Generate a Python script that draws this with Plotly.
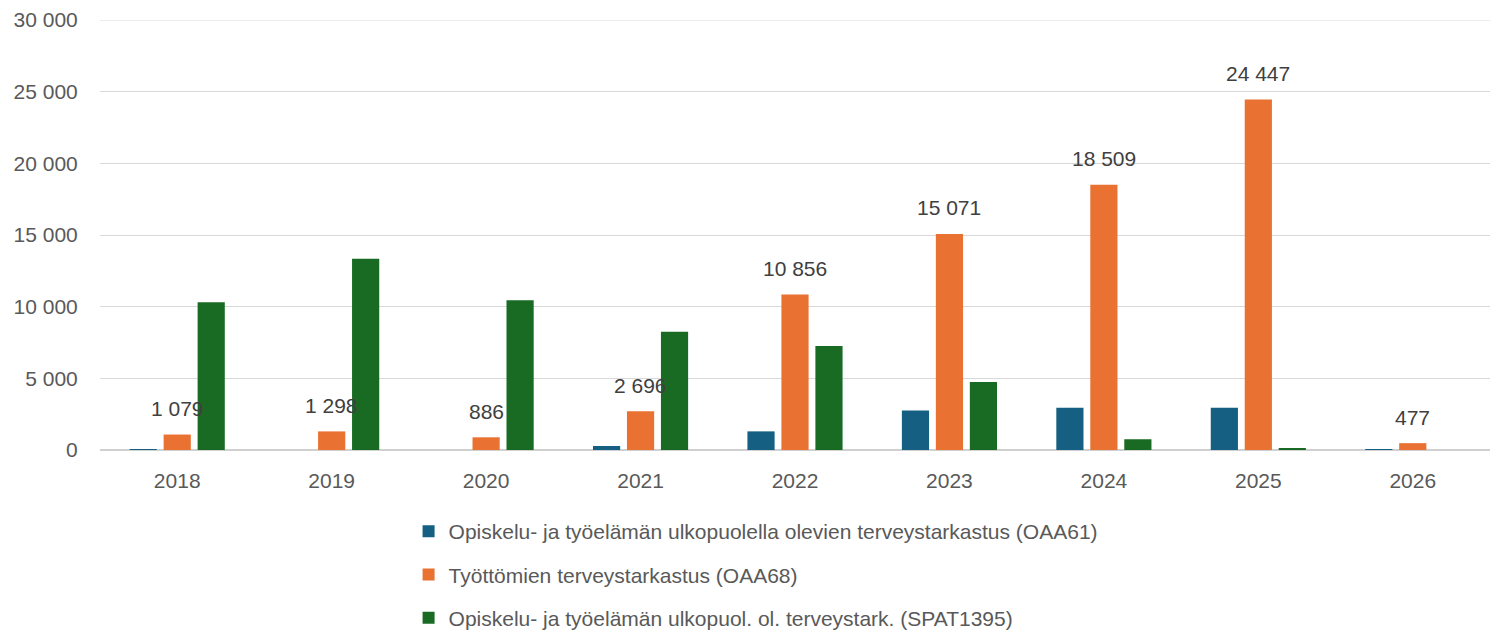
import plotly.graph_objects as go

years = ["2018", "2019", "2020", "2021", "2022", "2023", "2024", "2025", "2026"]
oaa61 = [30, 0, 0, 280, 1300, 2750, 2950, 2950, 20]
oaa68 = [1079, 1298, 886, 2696, 10856, 15071, 18509, 24447, 477]
spat1395 = [10300, 13350, 10450, 8250, 7250, 4750, 750, 80, 0]
oaa68_labels = ["1 079", "1 298", "886", "2 696", "10 856", "15 071", "18 509", "24 447", "477"]
y_ticks = [0, 5000, 10000, 15000, 20000, 25000, 30000]
y_tick_labels = ["0", "5 000", "10 000", "15 000", "20 000", "25 000", "30 000"]

names = [
    "Opiskelu- ja työelämän ulkopuolella olevien terveystarkastus (OAA61)",
    "Työttömien terveystarkastus (OAA68)",
    "Opiskelu- ja työelämän ulkopuol. ol. terveystark. (SPAT1395)",
]
colors = ["#156082", "#E97132", "#196B24"]

FONT = "Liberation Sans"

fig = go.Figure()
for i, (vals, nm, col) in enumerate(zip([oaa61, oaa68, spat1395], names, colors)):
    fig.add_trace(go.Bar(
        x=years, y=vals, name=nm, marker_color=col,
        marker_line_width=0, legendgroup=f"g{i}",
    ))

# category axis: annotations are placed by category index
for idx, (v, lab) in enumerate(zip(oaa68, oaa68_labels)):
    fig.add_annotation(x=idx, y=v, text=lab, showarrow=False, yshift=26,
                       font=dict(family=FONT, size=21, color="#404040"))

# top gridline at the edge of the range
fig.add_shape(type="line", xref="paper", yref="y", x0=0, x1=1,
              y0=y_ticks[-1], y1=y_ticks[-1], line=dict(color="#d9d9d9", width=1),
              layer="below")

fig.update_layout(
    width=1490, height=630,
    margin=dict(l=92, r=8, t=12, b=188),
    plot_bgcolor="white", paper_bgcolor="white",
    barmode="group", bargap=0.34, bargroupgap=0.2,
    font=dict(family=FONT, size=21, color="#595959"),
    showlegend=True,
    legend=dict(orientation="v", x=0.222, xanchor="left",
                yref="container", y=0, yanchor="bottom",
                font=dict(family=FONT, size=21, color="#595959"),
                tracegroupgap=13, itemwidth=30),
    xaxis=dict(type="category", categoryorder="array", categoryarray=years,
               automargin=False,
               showgrid=False, showline=False, ticks="outside", ticklen=12,
               tickcolor="rgba(0,0,0,0)", tickfont=dict(size=21, color="#595959")),
    yaxis=dict(range=[0, 30000], tickvals=y_ticks, ticktext=y_tick_labels,
               automargin=False, ticklabeloverflow="allow",
               showgrid=True, gridcolor="#d9d9d9", gridwidth=1,
               zeroline=True, zerolinecolor="#d0d0d0", zerolinewidth=2,
               ticks="outside", ticklen=17, tickcolor="rgba(0,0,0,0)",
               tickfont=dict(size=21, color="#595959")),
)

fig.write_html("out.html")
